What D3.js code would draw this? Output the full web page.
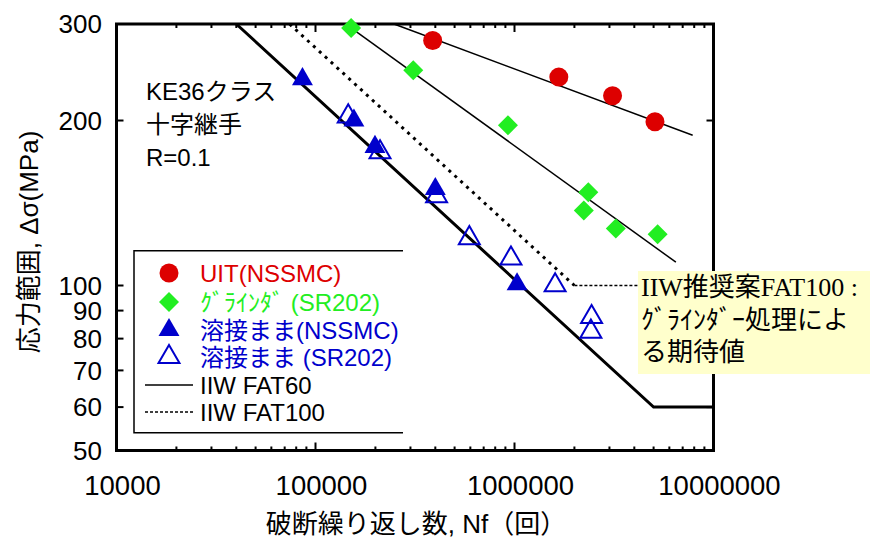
<!DOCTYPE html>
<html><head><meta charset="utf-8">
<script src="https://cdn.jsdelivr.net/npm/d3@7"></script>
<style>body{margin:0;background:#fff}svg{display:block}</style>
</head><body>
<svg id="c" width="870" height="542"></svg>
<script>
// ---- data ----
const uitN = [388000, 1670000, 3110000, 5080000];
const uitS = [280, 240, 222, 199];
const grindN = [151000, 310000, 927000, 2350000, 2230000, 3230000, 5240000];
const grindS = [295, 247, 196, 148, 137, 127, 124];
const awNsN = [86000, 156000, 199000, 400000, 1030000];
const awNsS = [238, 200, 179, 150, 100.5];
const awSrN = [146000, 211000, 406000, 593000, 960000, 1600000, 2440000, 2420000];
const awSrS = [203.5, 175, 145.5, 122, 112, 100.1, 87.6, 82.4];
const uitFitN = [248000, 7860000];
const uitFitS = [300, 188];
const grindFitN = [152000, 6470000];
const grindFitS = [294.6, 110.3];
const fat60N = [40000, 5000000, 10000000];
const fat60S = [300, 60, 60];
const fat100N = [74074, 2000000];
const fat100S = [300, 100];
const fat100FlatN = [2000000, 4300000];
const fat100FlatS = [100, 100];
const xTickVals = [1e4, 1e5, 1e6, 1e7];
const xTickLabels = ["10000", "100000", "1000000", "10000000"];
const yTickVals = [300, 200, 100, 90, 80, 70, 60, 50];
const yTickLabels = ["300", "200", "100", "90", "80", "70", "60", "50"];
const legendLabels = ["UIT(NSSMC)", "ｸﾞﾗｲﾝﾀﾞ (SR202)", "溶接まま(NSSMC)", "溶接まま (SR202)", "IIW FAT60", "IIW FAT100"];
const noteLines = ["KE36クラス", "十字継手", "R=0.1"];
const boxLines = ["IIW推奨案FAT100 :", "ｸﾞﾗｲﾝﾀﾞｰ処理によ", "る期待値"];
const xTitle = "破断繰り返し数, Nf（回）";
const yTitle = "応力範囲, Δσ(MPa)";

// ---- layout ----
const L = 116.5, R = 713.5, T = 24, B = 450.5;
const RED = "#dd0000", GREEN = "#22ee22", BLUE = "#0000cc";
const SANS = "'Liberation Sans', Arial, 'Noto Sans CJK JP', sans-serif";
const SERIF = "'Liberation Serif', 'Noto Sans CJK JP', serif";

const svg = d3.select("#c");
const x = d3.scaleLog().domain([1e4, 1e7]).range([L, R]);
const y = d3.scaleLog().domain([50, 300]).range([B, T]);
const line = d3.line().x(d => x(d[0])).y(d => y(d[1]));
const zip = (a, b) => a.map((v, i) => [v, b[i]]);

// minor/major ticks
const minorX = [];
[1e4, 1e5, 1e6].forEach(d => { for (let k = 2; k <= 9; k++) minorX.push(d * k); });
const tg = svg.append("g").attr("stroke", "#000").attr("stroke-width", 2);
[B, T].forEach((yy, i) => {
  const dir = i === 0 ? -1 : 1;
  minorX.forEach(v => tg.append("line").attr("x1", x(v)).attr("x2", x(v)).attr("y1", yy).attr("y2", yy + dir * 4));
  xTickVals.forEach(v => tg.append("line").attr("x1", x(v)).attr("x2", x(v)).attr("y1", yy).attr("y2", yy + dir * 8));
});
[L, R].forEach((xx, i) => {
  const dir = i === 0 ? 1 : -1;
  yTickVals.forEach(v => tg.append("line").attr("x1", xx).attr("x2", xx + dir * 7).attr("y1", y(v)).attr("y2", y(v)));
});

// tick labels
svg.append("g").selectAll("text").data(xTickVals).join("text")
  .attr("x", d => x(d) + 6).attr("y", 495).attr("text-anchor", "middle")
  .attr("font-family", SANS).attr("font-size", 27.5).text((d, i) => xTickLabels[i]);
svg.append("g").selectAll("text").data(yTickVals).join("text")
  .attr("x", 102).attr("y", d => y(d)).attr("dy", "0.36em").attr("text-anchor", "end")
  .attr("font-family", SANS).attr("font-size", 26).text((d, i) => yTickLabels[i]);

// axis titles
svg.append("text").attr("x", 416).attr("y", 533).attr("text-anchor", "middle")
  .attr("font-family", SANS).attr("font-size", 26).text(xTitle);
svg.append("text").attr("transform", "translate(38,242) rotate(-90)").attr("text-anchor", "middle")
  .attr("font-family", SANS).attr("font-size", 26).text(yTitle);

// reference lines
svg.append("path").datum(zip(fat60N, fat60S)).attr("d", line)
  .attr("fill", "none").attr("stroke", "#000").attr("stroke-width", 3);
svg.append("path").datum(zip(fat100N, fat100S)).attr("d", line)
  .attr("fill", "none").attr("stroke", "#000").attr("stroke-width", 3).attr("stroke-dasharray", "3,5");
svg.append("path").datum(zip(fat100FlatN, fat100FlatS)).attr("d", line)
  .attr("fill", "none").attr("stroke", "#000").attr("stroke-width", 1.3).attr("stroke-dasharray", "3,2");
svg.append("path").datum(zip(uitFitN, uitFitS)).attr("d", line)
  .attr("fill", "none").attr("stroke", "#000").attr("stroke-width", 1.5);
svg.append("path").datum(zip(grindFitN, grindFitS)).attr("d", line)
  .attr("fill", "none").attr("stroke", "#000").attr("stroke-width", 1.5);

// frame
svg.append("rect").attr("x", L).attr("y", T).attr("width", R - L).attr("height", B - T)
  .attr("fill", "none").attr("stroke", "#000").attr("stroke-width", 3);

// markers
const tri = d3.symbol().type(d3.symbolTriangle).size(190);
const dia = d3.symbol().type(d3.symbolSquare).size(200);
svg.append("g").selectAll("path").data(zip(awSrN, awSrS)).join("path")
  .attr("d", tri).attr("transform", d => `translate(${x(d[0])},${y(d[1])})`)
  .attr("fill", "none").attr("stroke", BLUE).attr("stroke-width", 2);
svg.append("g").selectAll("path").data(zip(awNsN, awNsS)).join("path")
  .attr("d", tri).attr("transform", d => `translate(${x(d[0])},${y(d[1])})`)
  .attr("fill", BLUE);
svg.append("g").selectAll("path").data(zip(grindN, grindS)).join("path")
  .attr("d", dia).attr("transform", d => `translate(${x(d[0])},${y(d[1])}) rotate(45)`)
  .attr("fill", GREEN);
svg.append("g").selectAll("circle").data(zip(uitN, uitS)).join("circle")
  .attr("cx", d => x(d[0])).attr("cy", d => y(d[1])).attr("r", 9.5).attr("fill", RED);

// notes
svg.append("g").selectAll("text").data(noteLines).join("text")
  .attr("x", 146).attr("y", (d, i) => 100 + i * 33).attr("font-family", SANS).attr("font-size", 24).text(d => d);

// legend
const lg = svg.append("g");
lg.append("path").attr("d", "M403,250.7H134V432.7H403").attr("fill", "none").attr("stroke", "#000").attr("stroke-width", 1.5);
const rowsY = [273, 302, 330, 357, 385, 412];
const lcol = [RED, GREEN, BLUE, BLUE, "#000", "#000"];
lg.selectAll("text").data(legendLabels).join("text")
  .attr("x", 200).attr("y", (d, i) => rowsY[i]).attr("dy", "0.36em")
  .attr("font-family", SANS).attr("font-size", 24).attr("fill", (d, i) => lcol[i]).text(d => d);
lg.append("circle").attr("cx", 169).attr("cy", rowsY[0]).attr("r", 9.5).attr("fill", RED);
lg.append("path").attr("d", dia).attr("transform", `translate(169,${rowsY[1]}) rotate(45)`).attr("fill", GREEN);
lg.append("path").attr("d", tri).attr("transform", `translate(169,${rowsY[2]})`).attr("fill", BLUE);
lg.append("path").attr("d", tri).attr("transform", `translate(169,${rowsY[3]})`).attr("fill", "none").attr("stroke", BLUE).attr("stroke-width", 2);
lg.append("line").attr("x1", 145).attr("x2", 193).attr("y1", rowsY[4]).attr("y2", rowsY[4]).attr("stroke", "#000").attr("stroke-width", 1.5);
lg.append("line").attr("x1", 145).attr("x2", 193).attr("y1", rowsY[5]).attr("y2", rowsY[5]).attr("stroke", "#000").attr("stroke-width", 1.3).attr("stroke-dasharray", "3,2");

// annotation box
svg.append("rect").attr("x", 638).attr("y", 271).attr("width", 232).attr("height", 103).attr("fill", "#ffffcc");
svg.append("g").selectAll("text").data(boxLines).join("text")
  .attr("x", 641).attr("y", (d, i) => 296 + i * 32.5)
  .attr("font-family", SERIF).attr("font-size", 26).text(d => d);
</script>
</body></html>
